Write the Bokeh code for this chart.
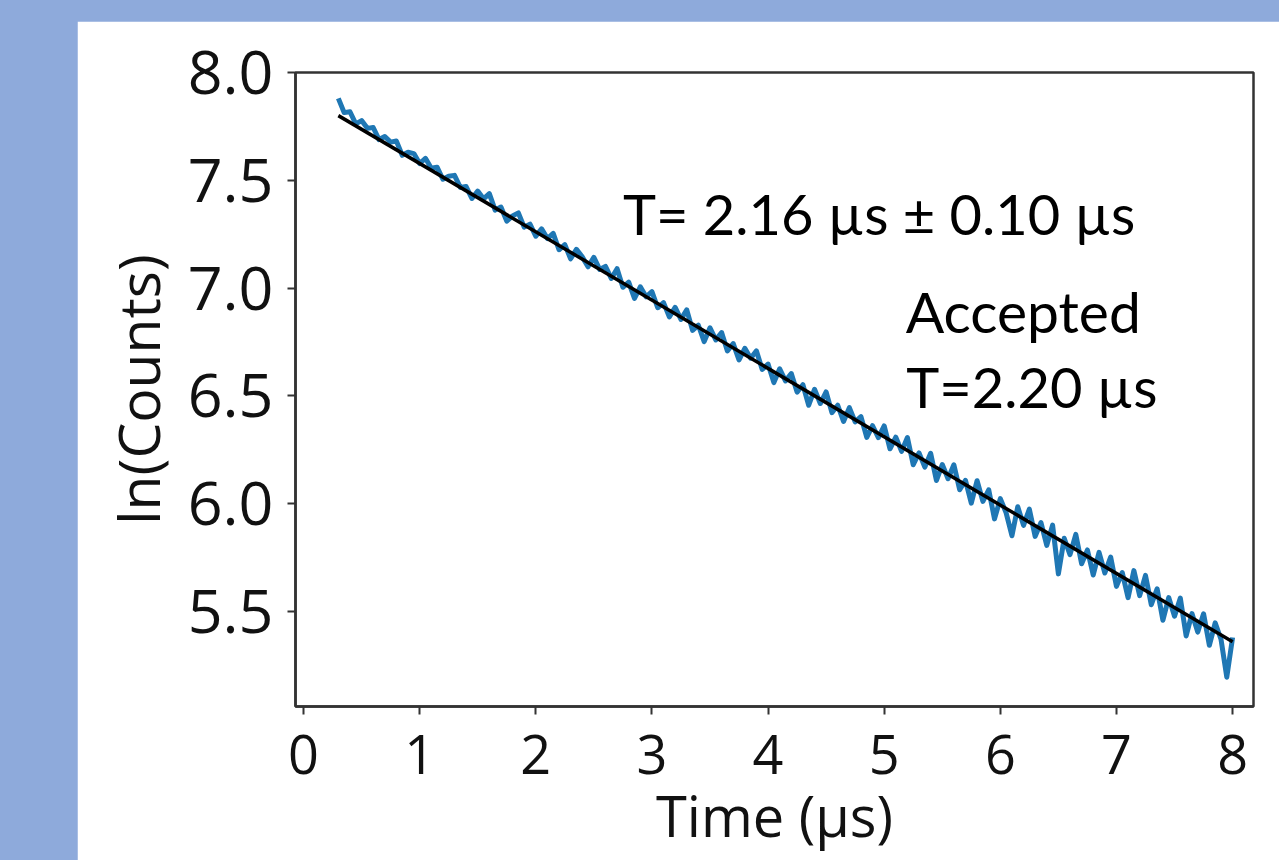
from bokeh.plotting import figure
from bokeh.models import ColumnDataSource, FixedTicker, PrintfTickFormatter, Label, Range1d, Spacer
from bokeh.layouts import column, row
from bokeh.embed import file_html
from bokeh.resources import INLINE

# ---- data ----
time_us = [
    0.30, 0.35, 0.40, 0.45, 0.50, 0.55, 0.60, 0.65, 0.70, 0.75,
    0.80, 0.85, 0.90, 0.95, 1.00, 1.05, 1.10, 1.15, 1.20, 1.25,
    1.30, 1.35, 1.40, 1.45, 1.50, 1.55, 1.60, 1.65, 1.70, 1.75,
    1.80, 1.85, 1.90, 1.95, 2.00, 2.05, 2.10, 2.15, 2.20, 2.25,
    2.30, 2.35, 2.40, 2.45, 2.50, 2.55, 2.60, 2.65, 2.70, 2.75,
    2.80, 2.85, 2.90, 2.95, 3.00, 3.05, 3.10, 3.15, 3.20, 3.25,
    3.30, 3.35, 3.40, 3.45, 3.50, 3.55, 3.60, 3.65, 3.70, 3.75,
    3.80, 3.85, 3.90, 3.95, 4.00, 4.05, 4.10, 4.15, 4.20, 4.25,
    4.30, 4.35, 4.40, 4.45, 4.50, 4.55, 4.60, 4.65, 4.70, 4.75,
    4.80, 4.85, 4.90, 4.95, 5.00, 5.05, 5.10, 5.15, 5.20, 5.25,
    5.30, 5.35, 5.40, 5.45, 5.50, 5.55, 5.60, 5.65, 5.70, 5.75,
    5.80, 5.85, 5.90, 5.95, 6.00, 6.05, 6.10, 6.15, 6.20, 6.25,
    6.30, 6.35, 6.40, 6.45, 6.50, 6.55, 6.60, 6.65, 6.70, 6.75,
    6.80, 6.85, 6.90, 6.95, 7.00, 7.05, 7.10, 7.15, 7.20, 7.25,
    7.30, 7.35, 7.40, 7.45, 7.50, 7.55, 7.60, 7.65, 7.70, 7.75,
    7.80, 7.85, 7.90, 7.95, 8.00,
]
ln_counts = [
    7.880, 7.814, 7.818, 7.762, 7.777, 7.741, 7.745, 7.689, 7.703, 7.677,
    7.682, 7.616, 7.630, 7.624, 7.578, 7.602, 7.556, 7.561, 7.505, 7.519,
    7.523, 7.467, 7.471, 7.416, 7.450, 7.414, 7.438, 7.362, 7.376, 7.311,
    7.335, 7.349, 7.283, 7.297, 7.241, 7.275, 7.230, 7.254, 7.178, 7.202,
    7.136, 7.180, 7.145, 7.099, 7.143, 7.087, 7.101, 7.045, 7.090, 7.004,
    7.028, 6.952, 7.006, 6.960, 6.984, 6.909, 6.933, 6.867, 6.911, 6.855,
    6.899, 6.804, 6.828, 6.752, 6.816, 6.760, 6.794, 6.709, 6.743, 6.667,
    6.721, 6.675, 6.709, 6.623, 6.648, 6.562, 6.626, 6.570, 6.604, 6.518,
    6.552, 6.457, 6.531, 6.465, 6.519, 6.423, 6.457, 6.382, 6.446, 6.380,
    6.404, 6.308, 6.362, 6.307, 6.361, 6.255, 6.309, 6.243, 6.307, 6.181,
    6.236, 6.170, 6.234, 6.108, 6.182, 6.116, 6.181, 6.065, 6.109, 6.003,
    6.107, 6.011, 6.065, 5.930, 6.024, 5.958, 5.852, 5.986, 5.900, 5.975,
    5.849, 5.913, 5.807, 5.901, 5.675, 5.840, 5.764, 5.858, 5.722, 5.786,
    5.670, 5.775, 5.679, 5.753, 5.617, 5.681, 5.565, 5.690, 5.574, 5.668,
    5.532, 5.606, 5.460, 5.565, 5.479, 5.563, 5.387, 5.491, 5.405, 5.490,
    5.344, 5.448, 5.372, 5.196, 5.380,
]
fit_time = [0.30, 8.00]
fit_ln = [7.80, 5.36]

x_ticks = [0, 1, 2, 3, 4, 5, 6, 7, 8]
y_ticks = [5.5, 6.0, 6.5, 7.0, 7.5, 8.0]

fit_text = "T= 2.16 \u00b5s \u00b1 0.10 \u00b5s"
accepted_text = ["Accepted", "T=2.20 \u00b5s"]

# ---- figure ----
p = figure(
    width=1202, height=839,
    x_range=Range1d(-0.069, 8.18), y_range=Range1d(5.06, 8.0),
    output_backend="svg", toolbar_location=None,
    min_border_left=218, min_border_right=26, min_border_top=51, min_border_bottom=154,
)
p.background_fill_color = "white"
p.border_fill_color = "white"
p.outline_line_color = "#333333"
p.outline_line_width = 2.5
p.xgrid.visible = False
p.ygrid.visible = False

data = ColumnDataSource(dict(t=time_us, y=ln_counts))
fit = ColumnDataSource(dict(t=fit_time, y=fit_ln))
p.line("t", "y", source=data, line_color="#1f77b4", line_width=5, line_join="round")
p.line("t", "y", source=fit, line_color="black", line_width=3.5)

for ax in (p.xaxis[0], p.yaxis[0]):
    ax.axis_line_color = "#333333"
    ax.axis_line_width = 2.5
    ax.major_tick_line_color = "#333333"
    ax.major_tick_line_width = 2
    ax.major_tick_out = 8
    ax.major_tick_in = 0
    ax.minor_tick_line_color = None
    ax.major_label_text_color = "#111111"
    ax.axis_label_text_color = "#111111"
    ax.major_label_text_font = "Open Sans"
    ax.axis_label_text_font = "Open Sans"
    ax.axis_label_text_font_style = "normal"

p.xaxis.ticker = FixedTicker(ticks=x_ticks)
p.yaxis.ticker = FixedTicker(ticks=y_ticks)
p.yaxis.formatter = PrintfTickFormatter(format="%.1f")
p.xaxis.major_label_text_font_size = "54px"
p.yaxis.major_label_text_font_size = "61px"
p.xaxis.axis_label = "Time (\u00b5s)"
p.yaxis.axis_label = "ln(Counts)"
p.xaxis.axis_label_text_font_size = "56px"
p.yaxis.axis_label_text_font_size = "57px"
p.xaxis.major_label_standoff = 20
p.yaxis.major_label_standoff = 14
p.xaxis.axis_label_standoff = 0
p.yaxis.axis_label_standoff = 8

p.add_layout(Label(x=2.75, y=7.345, text=fit_text, text_font="Lato", text_font_size="56px",
                   text_baseline="middle", text_align="left", text_color="black"))
p.add_layout(Label(x=5.185, y=6.895, text=accepted_text[0], text_font="Lato", text_font_size="57px",
                   text_baseline="middle", text_align="left", text_color="black"))
p.add_layout(Label(x=5.19, y=6.545, text=accepted_text[1], text_font="Lato", text_font_size="56px",
                   text_baseline="middle", text_align="left", text_color="black"))

layout = column(Spacer(height=21, width=10), row(Spacer(width=77, height=10), p))

html = file_html(layout, INLINE, title="ln(Counts) vs Time")
html = html.replace("<head>", "<head><style>html,body{background:#8eaadb;margin:0;padding:0;overflow:hidden;}</style>", 1)
open("out.html", "w").write(html)
